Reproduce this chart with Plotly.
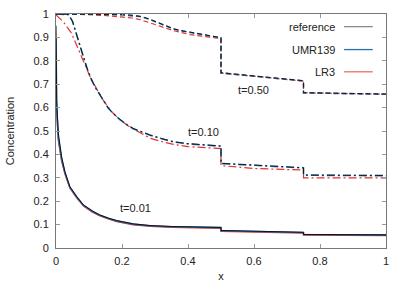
import plotly.graph_objects as go

# ---------------- data ----------------
# t = 0.01 (solid)
x_001 = [0.0, 0.002, 0.007, 0.012, 0.017, 0.027, 0.042, 0.063, 0.083, 0.11, 0.133, 0.16, 0.184,
         0.234, 0.285, 0.35, 0.4, 0.45, 0.5, 0.5, 0.6, 0.75, 0.75, 0.9, 1.0]
ref_001 = [0.95, 0.63, 0.49, 0.44, 0.39, 0.326, 0.262, 0.219, 0.184, 0.158, 0.141, 0.127, 0.117,
           0.103, 0.096, 0.092, 0.090, 0.089, 0.088, 0.075, 0.072, 0.067, 0.058, 0.057, 0.056]
umr_001 = [0.90, 0.60, 0.47, 0.43, 0.38, 0.322, 0.260, 0.218, 0.183, 0.157, 0.140, 0.126, 0.116,
           0.102, 0.095, 0.091, 0.089, 0.088, 0.087, 0.074, 0.071, 0.066, 0.058, 0.057, 0.056]
lr3_001 = [0.82, 0.58, 0.46, 0.42, 0.37, 0.316, 0.255, 0.213, 0.179, 0.153, 0.137, 0.123, 0.113,
           0.099, 0.092, 0.088, 0.086, 0.085, 0.084, 0.071, 0.068, 0.063, 0.055, 0.054, 0.053]

# t = 0.10 (dash-dot)
x_010 = [0.0, 0.02, 0.038, 0.05, 0.058, 0.07, 0.083, 0.095, 0.108, 0.12, 0.133, 0.159, 0.184,
         0.21, 0.234, 0.26, 0.285, 0.32, 0.356, 0.4, 0.45, 0.5, 0.5, 0.55, 0.6, 0.65, 0.7, 0.75,
         0.75, 0.85, 1.0]
ref_010 = [1.0, 1.0, 0.998, 0.97, 0.932, 0.87, 0.818, 0.765, 0.718, 0.685, 0.655, 0.597, 0.561,
           0.532, 0.511, 0.495, 0.483, 0.468, 0.454, 0.446, 0.440, 0.436, 0.362, 0.358, 0.355,
           0.351, 0.347, 0.343, 0.312, 0.311, 0.310]
umr_010 = [1.0, 1.0, 0.997, 0.968, 0.930, 0.868, 0.817, 0.764, 0.717, 0.684, 0.654, 0.596, 0.560,
           0.531, 0.510, 0.494, 0.482, 0.467, 0.453, 0.445, 0.439, 0.435, 0.361, 0.357, 0.354,
           0.350, 0.346, 0.342, 0.311, 0.310, 0.309]
x_010r = [0.0, 0.022, 0.047, 0.073, 0.103, 0.123, 0.143, 0.17, 0.194, 0.22, 0.25, 0.285, 0.32,
          0.356, 0.4, 0.45, 0.5, 0.5, 0.6, 0.75, 0.75, 0.85, 1.0]
lr3_010 = [0.996, 0.967, 0.918, 0.832, 0.733, 0.680, 0.632, 0.580, 0.548, 0.520, 0.497, 0.469,
           0.455, 0.443, 0.433, 0.428, 0.425, 0.352, 0.340, 0.333, 0.300, 0.300, 0.300]

# t = 0.50 (dashed)
x_050 = [0.0, 0.1, 0.15, 0.204, 0.23, 0.255, 0.28, 0.305, 0.33, 0.356, 0.38, 0.406, 0.45, 0.5,
         0.5, 0.6, 0.75, 0.75, 0.85, 1.0]
ref_050 = [1.0, 1.0, 0.999, 0.997, 0.995, 0.990, 0.980, 0.966, 0.951, 0.937, 0.929, 0.922, 0.910,
           0.899, 0.749, 0.735, 0.715, 0.664, 0.661, 0.658]
umr_050 = [1.0, 1.0, 0.999, 0.996, 0.994, 0.989, 0.979, 0.965, 0.950, 0.936, 0.928, 0.921, 0.909,
           0.898, 0.748, 0.734, 0.714, 0.663, 0.660, 0.657]
x_050r = [0.0, 0.05, 0.1, 0.154, 0.204, 0.23, 0.255, 0.28, 0.305, 0.33, 0.356, 0.406, 0.45, 0.5,
          0.5, 0.6, 0.75, 0.75, 0.85, 1.0]
lr3_050 = [1.0, 0.999, 0.997, 0.993, 0.987, 0.983, 0.976, 0.965, 0.952, 0.940, 0.929, 0.912,
           0.903, 0.895, 0.748, 0.733, 0.713, 0.663, 0.660, 0.657]

series_names = ["reference", "UMR139", "LR3"]
time_labels = ["t=0.50", "t=0.10", "t=0.01"]
label_pos_x = [0.598, 0.447, 0.242]
label_pos_y = [0.675, 0.497, 0.171]
x_ticks = [0, 0.2, 0.4, 0.6, 0.8, 1]
y_ticks = [0, 0.1, 0.2, 0.3, 0.4, 0.5, 0.6, 0.7, 0.8, 0.9, 1]

# ---------------- styles ----------------
C_REF = "#111111"
C_UMR = "#2272b0"
C_LR3 = "#e8302a"
legend_colors = {"reference": "#8a8a8a", "UMR139": C_UMR, "LR3": "#f06a6a"}
DASH = "5px,3px"
DASHDOT = "8px,3px,2px,3px"

fig = go.Figure()

def add(x, y, color, dash, width):
    fig.add_trace(go.Scatter(x=x, y=y, mode="lines", showlegend=False, hoverinfo="skip",
                             line=dict(color=color, width=width, dash=dash)))

add(x_050r, lr3_050, C_LR3, DASH, 1.2)
add(x_050, umr_050, C_UMR, DASH, 1.6)
add(x_050, ref_050, C_REF, DASH, 0.9)

add(x_010r, lr3_010, C_LR3, DASHDOT, 1.2)
add(x_010, umr_010, C_UMR, DASHDOT, 1.6)
add(x_010, ref_010, C_REF, DASHDOT, 0.9)

add(x_001, lr3_001, C_LR3, "solid", 1.2)
add(x_001, umr_001, C_UMR, "solid", 1.6)
add(x_001, ref_001, C_REF, "solid", 1.0)

FONT = "Liberation Sans, Arial, sans-serif"
TXT = "#222222"

for txt, lx, ly in zip(time_labels, label_pos_x, label_pos_y):
    fig.add_annotation(x=lx, y=ly, xref="x", yref="y", text=txt, showarrow=False,
                       font=dict(family=FONT, size=11, color=TXT))

# custom legend (text left, sample line right)
leg_y = [0.946, 0.848, 0.753]
for name, ly in zip(series_names, leg_y):
    fig.add_annotation(x=0.853, y=ly, xref="paper", yref="paper", text=name,
                       showarrow=False, xanchor="right", yanchor="middle",
                       font=dict(family=FONT, size=11, color=TXT))
    fig.add_shape(type="line", xref="paper", yref="paper", x0=0.873, x1=0.960,
                  y0=ly, y1=ly, line=dict(color=legend_colors[name], width=1.3))

axis_common = dict(showline=True, linecolor="#777777", linewidth=1, mirror="ticks",
                   ticks="inside", ticklen=4, tickcolor="#999999", tickwidth=1,
                   showgrid=False, zeroline=False, automargin=False,
                   tickfont=dict(family=FONT, size=11, color=TXT))

fig.update_xaxes(range=[0, 1], tickvals=x_ticks, ticktext=[f"{v:g}" for v in x_ticks],
                 title=dict(text="x", font=dict(family=FONT, size=11, color=TXT), standoff=6),
                 ticklabelstandoff=3, **axis_common)
fig.update_yaxes(range=[0, 1], tickvals=y_ticks, ticktext=[f"{v:g}" for v in y_ticks],
                 title=dict(text="Concentration", font=dict(family=FONT, size=11, color=TXT),
                            standoff=16),
                 ticklabelstandoff=4, **axis_common)

fig.update_layout(width=407, height=285, margin=dict(l=56, r=21, t=14, b=37, autoexpand=False),
                  paper_bgcolor="white", plot_bgcolor="white", showlegend=False,
                  hovermode=False, font=dict(family=FONT, size=11))

fig.write_html("out.html", config={"displayModeBar": False},
               post_script="document.body.style.margin='0';document.body.style.padding='0';")
